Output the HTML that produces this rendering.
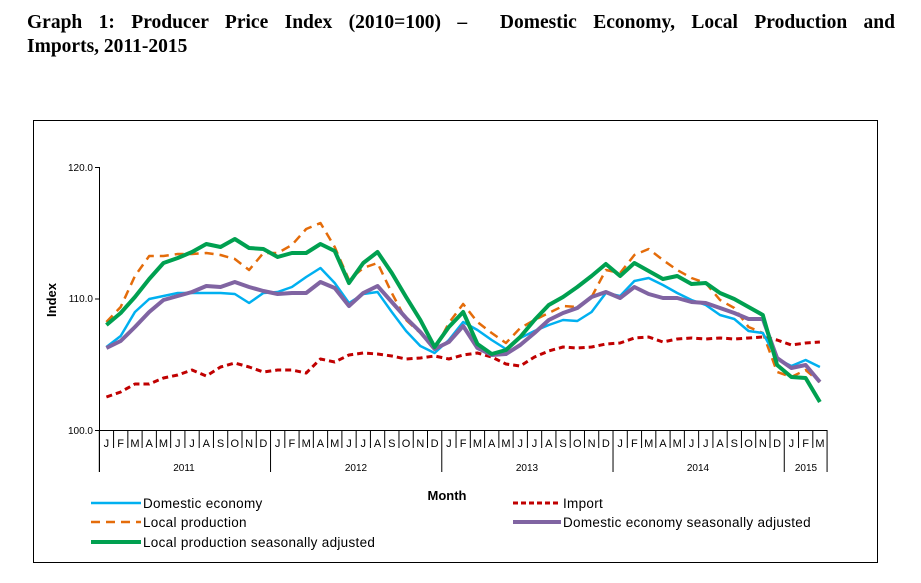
<!DOCTYPE html>
<html><head><meta charset="utf-8"><style>
body{margin:0;background:#fff;width:921px;height:583px;overflow:hidden;position:relative;font-family:"Liberation Sans",sans-serif}
.t{position:absolute;left:27px;width:868px;font-family:"Liberation Serif",serif;font-weight:bold;font-size:19.5px;line-height:24px;text-align:justify;text-align-last:justify}
</style></head><body>
<div class="t" style="top:11px">Graph 1: Producer Price Index (2010=100) –&nbsp; Domestic Economy, Local Production and</div>
<div class="t" style="top:35px;text-align-last:left">Imports, 2011-2015</div>
<svg width="921" height="583" style="position:absolute;left:0;top:0">
<rect x="33.5" y="120.5" width="844" height="442" fill="none" stroke="#000"/>
<g font-size="10" fill="#000">
<line x1="99.5" y1="167" x2="99.5" y2="472" stroke="#000"/>
<line x1="95" y1="167.5" x2="99.5" y2="167.5" stroke="#000"/>
<line x1="95" y1="299" x2="99.5" y2="299" stroke="#000"/>
<line x1="95" y1="430.5" x2="827" y2="430.5" stroke="#000"/>
<text x="93" y="171" text-anchor="end" font-size="10">120.0</text>
<text x="93" y="302" text-anchor="end" font-size="10">110.0</text>
<text x="93" y="434" text-anchor="end" font-size="10">100.0</text>
<text transform="translate(56,300) rotate(-90)" text-anchor="middle" font-weight="bold" font-size="13">Index</text>
<g id="ticks" stroke="#000"></g>
<g id="lbl" font-size="11" text-anchor="middle"></g>
<text x="184" y="471" text-anchor="middle">2011</text>
<text x="356" y="471" text-anchor="middle">2012</text>
<text x="527" y="471" text-anchor="middle">2013</text>
<text x="698" y="471" text-anchor="middle">2014</text>
<text x="806" y="471" text-anchor="middle">2015</text>
</g>
<g fill="none" stroke-linejoin="round" transform="translate(106.4,0) scale(14.27,1)">
<polyline vector-effect="non-scaling-stroke" stroke="#c00000" stroke-width="3" stroke-dasharray="6,4" points="0,397 1,392 2,384 3,384 4,378 5,375 6,370 7,376 8,367 9,363 10,367 11,372 12,370 13,370 14,373 15,359 16,362 17,355 18,353 19,354 20,356 21,359 22,358 23,356 24,359 25,355 26,353 27,357 28,364 29,366 30,357 31,351 32,347 33,348 34,347 35,344 36,343 37,338 38,337 39,342 40,339 41,338 42,339 43,338 44,339 45,338 46,337 47,340 48,345 49,343 50,342"/>
<polyline vector-effect="non-scaling-stroke" stroke="#e46c0a" stroke-width="2.5" stroke-dasharray="9,6" points="0,322 1,307 2,276 3,256 4,256 5,254 6,254 7,253 8,255 9,259 10,270 11,253 12,253 13,245 14,229 15,223 16,247 17,280 18,268 19,263 20,293 21,320 22,333 23,350 24,323 25,304 26,322 27,333 28,343 29,328 30,320 31,313 32,306 33,307 34,297 35,270 36,273 37,255 38,249 39,260 40,270 41,278 42,283 43,300 44,308 45,327 46,333 47,372 48,377 49,370 50,382"/>
<polyline vector-effect="non-scaling-stroke" stroke="#00b0f0" stroke-width="2.5" points="0,347 1,336 2,312 3,299 4,296 5,293 6,293 7,293 8,293 9,294 10,303 11,293 12,292 13,287 14,277 15,268 16,283 17,303 18,294 19,292 20,312 21,331 22,346 23,353 24,340 25,322 26,330 27,340 28,349 29,338 30,331 31,325 32,320 33,321 34,312 35,293 36,296 37,281 38,278 39,285 40,293 41,300 42,305 43,315 44,319 45,331 46,333 47,359 48,366 49,360 50,367"/>
<polyline vector-effect="non-scaling-stroke" stroke="#8064a2" stroke-width="4" points="0,348 1,341 2,327 3,312 4,300 5,296 6,292 7,286 8,287 9,282 10,287 11,291 12,294 13,293 14,293 15,282 16,288 17,306 18,293 19,286 20,302 21,318 22,332 23,349 24,342 25,326 26,348 27,355 28,354 29,345 30,333 31,320 32,313 33,308 34,297 35,292 36,298 37,287 38,294 39,298 40,298 41,302 42,303 43,308 44,313 45,319 46,319 47,358 48,368 49,365 50,382"/>
<polyline vector-effect="non-scaling-stroke" stroke="#00a050" stroke-width="4" points="0,325 1,313 2,297 3,279 4,263 5,258 6,252 7,244 8,247 9,239 10,248 11,249 12,257 13,253 14,253 15,244 16,251 17,283 18,263 19,252 20,273 21,297 22,320 23,347 24,327 25,312 26,344 27,354 28,350 29,337 30,320 31,305 32,297 33,287 34,276 35,264 36,276 37,263 38,271 39,279 40,276 41,284 42,283 43,293 44,299 45,307 46,315 47,365 48,377 49,378 50,402"/>
</g>
<g font-size="13.5" fill="#000">
<text x="447" y="500" text-anchor="middle" font-weight="bold" font-size="13">Month</text>
<line x1="91" y1="503" x2="141" y2="503" stroke="#00b0f0" stroke-width="2.5"/>
<text x="143" y="508" letter-spacing="0.3">Domestic economy</text>
<line x1="91" y1="522" x2="141" y2="522" stroke="#e46c0a" stroke-width="2.5" stroke-dasharray="9,6"/>
<text x="143" y="527" letter-spacing="0.3">Local production</text>
<line x1="91" y1="542" x2="141" y2="542" stroke="#00a050" stroke-width="4"/>
<text x="143" y="547" letter-spacing="0.3">Local production seasonally adjusted</text>
<line x1="513" y1="503" x2="561" y2="503" stroke="#c00000" stroke-width="3" stroke-dasharray="5,3"/>
<text x="563" y="508" letter-spacing="0.3">Import</text>
<line x1="513" y1="522" x2="561" y2="522" stroke="#8064a2" stroke-width="4"/>
<text x="563" y="527" letter-spacing="0.3">Domestic economy seasonally adjusted</text>
</g>
</svg>
<script>
var ns="http://www.w3.org/2000/svg",t=document.getElementById("ticks"),l=document.getElementById("lbl");
var m="JFMAMJJASOND";
for(var i=0;i<=51;i++){var x=99.3+14.27*i;var yr=(i%12==0)||i==51;var ln=document.createElementNS(ns,"line");
ln.setAttribute("x1",x);ln.setAttribute("x2",x);ln.setAttribute("y1",430);ln.setAttribute("y2",yr?472:448);t.appendChild(ln);
if(i<51){var tx=document.createElementNS(ns,"text");tx.setAttribute("x",x+7.1);tx.setAttribute("y",447);tx.textContent=m[i%12];l.appendChild(tx);}}
</script>
</body></html>
